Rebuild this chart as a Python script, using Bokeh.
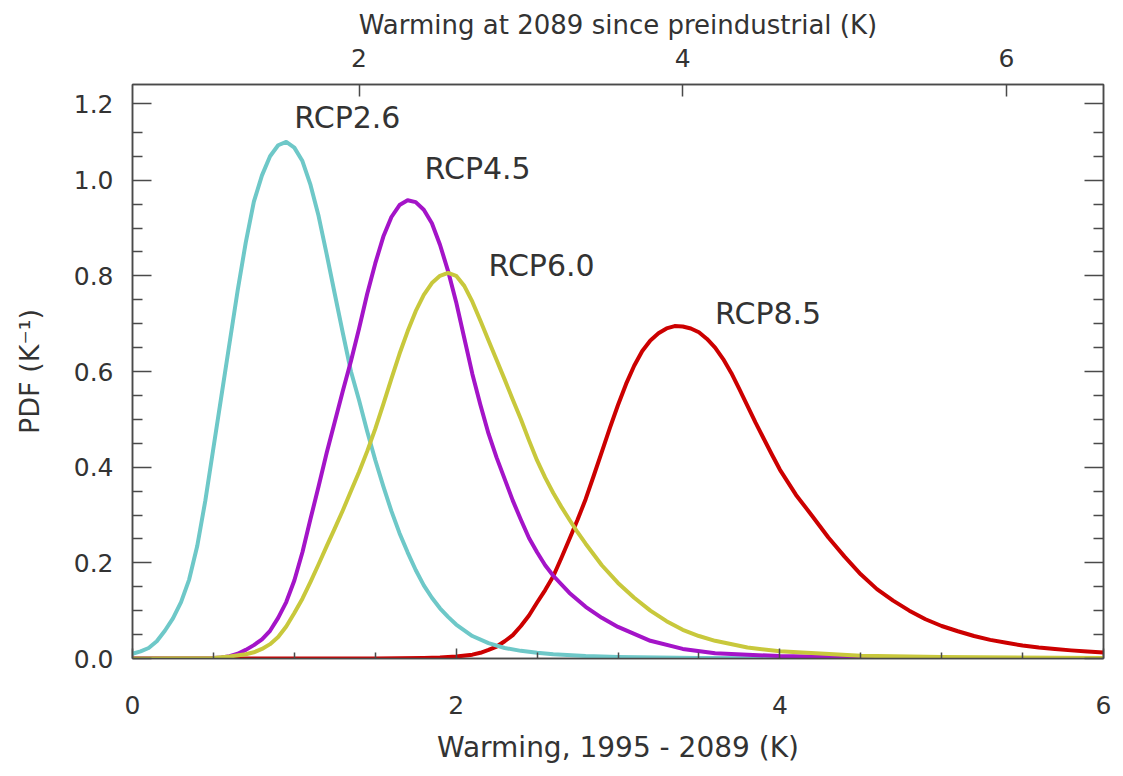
from bokeh.plotting import figure
from bokeh.models import Range1d, LinearAxis, FixedTicker
from bokeh.embed import file_html
from bokeh.resources import INLINE
from bokeh.core.properties import value

# ---------------- data ----------------
series_names = ["RCP2.6", "RCP4.5", "RCP6.0", "RCP8.5"]

rcp26_x = [0.0, 0.05, 0.1, 0.15, 0.2, 0.25, 0.3, 0.35, 0.4, 0.45, 0.5, 0.55, 0.6, 0.65, 0.7, 0.75,
           0.8, 0.85, 0.9, 0.95, 1.0, 1.05, 1.1, 1.15, 1.2, 1.25, 1.3, 1.35, 1.4, 1.45, 1.5, 1.55,
           1.6, 1.65, 1.7, 1.75, 1.8, 1.85, 1.9, 1.95, 2.0, 2.1, 2.2, 2.3, 2.4, 2.5, 2.6, 2.8,
           3.0, 3.5, 4.0, 5.0, 6.0]
rcp26_y = [0.010, 0.015, 0.022, 0.036, 0.058, 0.084, 0.118, 0.165, 0.235, 0.33, 0.44, 0.55, 0.66, 0.77, 0.87, 0.955,
           1.01, 1.05, 1.073, 1.08, 1.068, 1.04, 0.99, 0.925, 0.845, 0.762, 0.68, 0.60, 0.54, 0.475, 0.415, 0.36,
           0.308, 0.262, 0.222, 0.185, 0.153, 0.127, 0.105, 0.087, 0.071, 0.047, 0.032, 0.022, 0.016, 0.012, 0.009, 0.005,
           0.003, 0.001, 0.0005, 0.0, 0.0]

rcp45_x = [0.0, 0.5, 0.55, 0.6, 0.65, 0.7, 0.75, 0.8, 0.85, 0.9, 0.95, 1.0, 1.05, 1.1, 1.15, 1.2,
           1.25, 1.3, 1.35, 1.4, 1.45, 1.5, 1.55, 1.6, 1.65, 1.7, 1.75, 1.8, 1.85, 1.9, 1.95, 2.0,
           2.05, 2.1, 2.15, 2.2, 2.25, 2.3, 2.35, 2.4, 2.45, 2.5, 2.55, 2.6, 2.7, 2.8, 2.9, 3.0,
           3.2, 3.4, 3.6, 4.0, 4.5, 5.0, 6.0]
rcp45_y = [0.0, 0.001, 0.002, 0.005, 0.010, 0.018, 0.028, 0.040, 0.058, 0.085, 0.118, 0.163, 0.222, 0.292, 0.36, 0.43,
           0.495, 0.56, 0.622, 0.69, 0.762, 0.826, 0.882, 0.923, 0.948, 0.958, 0.954, 0.938, 0.91, 0.865, 0.81, 0.745,
           0.67, 0.595, 0.53, 0.47, 0.42, 0.375, 0.33, 0.29, 0.252, 0.222, 0.195, 0.173, 0.137, 0.108, 0.085, 0.066,
           0.037, 0.02, 0.011, 0.005, 0.002, 0.001, 0.0]

rcp60_x = [0.0, 0.5, 0.6, 0.7, 0.75, 0.8, 0.85, 0.9, 0.95, 1.0, 1.05, 1.1, 1.15, 1.2, 1.25, 1.3,
           1.35, 1.4, 1.45, 1.5, 1.55, 1.6, 1.65, 1.7, 1.75, 1.8, 1.85, 1.9, 1.95, 2.0, 2.05, 2.1,
           2.15, 2.2, 2.25, 2.3, 2.35, 2.4, 2.45, 2.5, 2.55, 2.6, 2.65, 2.7, 2.75, 2.8, 2.9, 3.0,
           3.1, 3.2, 3.3, 3.4, 3.5, 3.6, 3.8, 4.0, 4.5, 5.0, 6.0]
rcp60_y = [0.0, 0.001, 0.004, 0.009, 0.013, 0.020, 0.030, 0.045, 0.067, 0.095, 0.125, 0.16, 0.197, 0.235, 0.272, 0.31,
           0.35, 0.39, 0.433, 0.48, 0.532, 0.585, 0.637, 0.684, 0.726, 0.76, 0.785, 0.80, 0.806, 0.80, 0.779, 0.746,
           0.706, 0.665, 0.624, 0.583, 0.541, 0.50, 0.456, 0.414, 0.378, 0.346, 0.317, 0.29, 0.264, 0.24, 0.195, 0.158,
           0.127, 0.10, 0.078, 0.06, 0.047, 0.037, 0.023, 0.015, 0.006, 0.003, 0.001]

rcp85_x = [0.0, 1.5, 1.8, 1.9, 2.0, 2.1, 2.15, 2.2, 2.25, 2.3, 2.35, 2.4, 2.45, 2.5, 2.55, 2.6,
           2.65, 2.7, 2.75, 2.8, 2.85, 2.9, 2.95, 3.0, 3.05, 3.1, 3.15, 3.2, 3.25, 3.3, 3.35, 3.4,
           3.45, 3.5, 3.55, 3.6, 3.65, 3.7, 3.75, 3.8, 3.85, 3.9, 3.95, 4.0, 4.1, 4.2, 4.3, 4.4,
           4.5, 4.6, 4.7, 4.8, 4.9, 5.0, 5.1, 5.2, 5.3, 5.4, 5.5, 5.6, 5.7, 5.8, 5.9, 6.0]
rcp85_y = [0.0, 0.0, 0.001, 0.002, 0.004, 0.008, 0.012, 0.018, 0.025, 0.036, 0.049, 0.068, 0.09, 0.117, 0.143, 0.172,
           0.21, 0.25, 0.29, 0.333, 0.382, 0.432, 0.482, 0.53, 0.574, 0.612, 0.643, 0.665, 0.68, 0.69, 0.695, 0.694,
           0.69, 0.682, 0.668, 0.65, 0.626, 0.597, 0.563, 0.528, 0.493, 0.46, 0.427, 0.395, 0.342, 0.298, 0.253, 0.213,
           0.176, 0.145, 0.121, 0.10, 0.082, 0.068, 0.057, 0.047, 0.039, 0.033, 0.027, 0.023, 0.02, 0.017, 0.0145, 0.0125]

# label anchor positions (data units, left edge / vertical middle)
label_x = [1.0, 1.805, 2.2, 3.6]
label_y = [1.13, 1.025, 0.822, 0.722]

x_ticks = [0, 2, 4, 6]
x_minor = [0.5, 1.0, 1.5, 2.5, 3.0, 3.5, 4.5, 5.0, 5.5]
# the top labelled tick of the reference sits just below the frame top and reads "1.2"
y_ticks = [0.0, 0.2, 0.4, 0.6, 0.8, 1.0, 1.16]
y_tick_labels = ["0.0", "0.2", "0.4", "0.6", "0.8", "1.0", "1.2"]
y_minor = [0.05, 0.1, 0.15, 0.25, 0.3, 0.35, 0.45, 0.5, 0.55, 0.65, 0.7, 0.75,
           0.85, 0.9, 0.95, 1.05, 1.1]
top_offset = 0.6          # warming since preindustrial = warming since 1995 + 0.6 K
top_ticks = [2, 4, 6]

colors = ["#6ec8c8", "#a414c8", "#c8c83c", "#cc0000"]

FONT = "DejaVu Sans"
TXT = "#333333"
AX = "#4a4a4a"

p = figure(frame_width=971, frame_height=574,
           x_range=Range1d(0, 6), y_range=Range1d(0, 1.2),
           x_axis_location=None, y_axis_location=None,
           output_backend="svg", toolbar_location=None,
           min_border_left=132, min_border_right=12,
           min_border_top=84, min_border_bottom=110)
p.extra_x_ranges = {"top": Range1d(0 + top_offset, 6 + top_offset)}
p.grid.visible = False
p.outline_line_color = AX
p.outline_line_width = 1.5
p.background_fill_color = "white"
p.border_fill_color = "white"


def style(ax, major_in, minor_in, lab_size, title_size):
    ax.major_tick_in = major_in
    ax.major_tick_out = 0
    ax.minor_tick_in = minor_in
    ax.minor_tick_out = 0
    ax.axis_line_color = AX
    ax.axis_line_width = 1.5
    ax.major_tick_line_color = AX
    ax.major_tick_line_width = 1.5
    ax.minor_tick_line_color = AX
    ax.minor_tick_line_width = 1.5
    ax.major_label_text_font = FONT
    ax.major_label_text_font_size = lab_size
    ax.major_label_text_color = TXT
    ax.axis_label_text_font = FONT
    ax.axis_label_text_font_style = "normal"
    ax.axis_label_text_font_size = title_size
    ax.axis_label_text_color = TXT


bottom = LinearAxis(ticker=FixedTicker(ticks=x_ticks, minor_ticks=x_minor),
                    axis_label="Warming, 1995 - 2089 (K)")
style(bottom, 10, 6, "25px", "28px")
bottom.major_label_standoff = 37
bottom.axis_label_standoff = 14
p.add_layout(bottom, "below")

top = LinearAxis(x_range_name="top", ticker=FixedTicker(ticks=top_ticks, minor_ticks=[]),
                 axis_label="Warming at 2089 since preindustrial (K)")
style(top, 12, 0, "25px", "26px")
top.major_label_standoff = 18
top.axis_label_standoff = 6
p.add_layout(top, "above")

left = LinearAxis(ticker=FixedTicker(ticks=y_ticks, minor_ticks=y_minor),
                  axis_label="PDF (K\u207b\u00b9)")
style(left, 19, 10, "25px", "27px")
left.major_label_overrides = dict(zip(y_ticks, y_tick_labels))
left.major_label_standoff = 19
left.axis_label_standoff = 26
p.add_layout(left, "left")

right = LinearAxis(ticker=FixedTicker(ticks=y_ticks, minor_ticks=y_minor))
style(right, 19, 10, "25px", "20px")
right.major_label_overrides = {t: "" for t in y_ticks}
right.major_label_standoff = 0
p.add_layout(right, "right")

xs = [rcp26_x, rcp45_x, rcp60_x, rcp85_x]
ys = [rcp26_y, rcp45_y, rcp60_y, rcp85_y]
for i in [3, 0, 1, 2]:
    p.line(xs[i], ys[i], line_color=colors[i], line_width=4, line_join="round")

p.text(x=label_x, y=label_y, text=series_names, text_align="left", text_baseline="middle",
       text_font=value(FONT), text_font_size="30px", text_color=TXT)

open("out.html", "w").write(file_html(p, INLINE))
